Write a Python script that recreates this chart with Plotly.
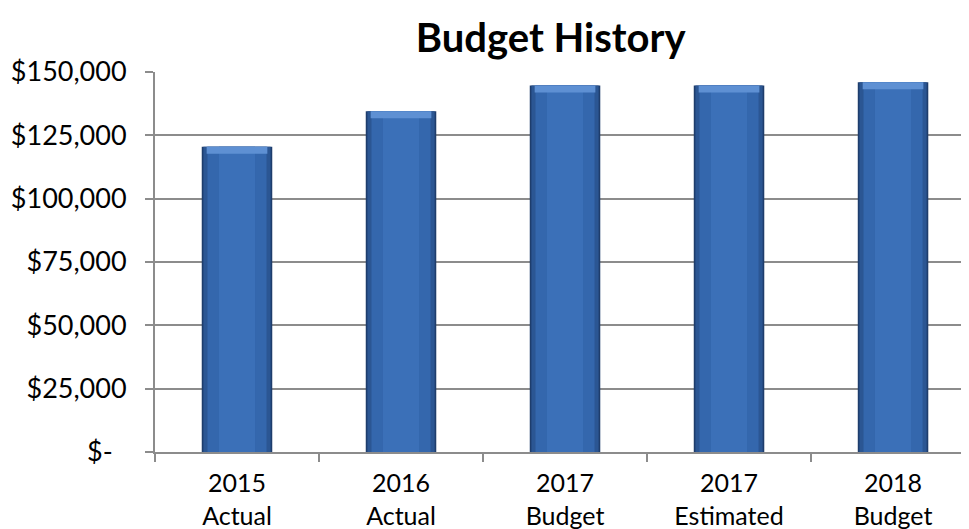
import plotly.graph_objects as go

categories = ["2015<br>Actual", "2016<br>Actual", "2017<br>Budget", "2017<br>Estimated", "2018<br>Budget"]
values = [120500, 134500, 144700, 144700, 146000]
tick_vals = [0, 25000, 50000, 75000, 100000, 125000, 150000]
tick_text = ["$-\u00a0\u00a0", "$25,000", "$50,000", "$75,000", "$100,000", "$125,000", "$150,000"]

FONT = "Lato"

fig = go.Figure()
# layered bars to imitate the shaded column look
layers = [
    (0.43, "#1E3D6C"),
    (0.41, "#2B5693"),
    (0.36, "#3467AD"),
    (0.22, "#3B70B8"),
]
for w, c in layers:
    fig.add_trace(go.Bar(x=categories, y=values, width=w, marker=dict(color=c, line=dict(width=0)),
                         hoverinfo="skip", showlegend=False))
# light bevel at top of each column
bevel = [2800] * len(values)
fig.add_trace(go.Bar(x=categories, y=bevel, base=[v - b for v, b in zip(values, bevel)], width=0.37,
                     marker=dict(color="#5E90D3", line=dict(width=0)), hoverinfo="skip", showlegend=False))

fig.update_layout(
    barmode="overlay",
    width=969, height=529,
    margin=dict(l=147, r=0, t=64, b=85),
    paper_bgcolor="white", plot_bgcolor="white",
    font=dict(family=FONT, size=27, color="black"),
    title=dict(text="<b>Budget History</b>", x=0.560, xanchor="center", y=1 - 30 / 529, yanchor="middle",
               font=dict(family=FONT, size=40, color="black")),
    showlegend=False,
)
fig.update_xaxes(
    range=[-0.5, 4.512], showgrid=False, showline=True, linecolor="#8C8C8C", linewidth=2,
    ticks="outside", tickson="boundaries", ticklen=8, tickcolor="#8C8C8C", tickwidth=1.5,
    ticklabelstandoff=8,
    tickfont=dict(family=FONT, size=25, color="black"),
)
fig.update_yaxes(
    range=[0, 150000], tickvals=tick_vals, ticktext=tick_text,
    showgrid=True, gridcolor="#8C8C8C", gridwidth=2,
    showline=True, linecolor="#8C8C8C", linewidth=2,
    ticks="outside", ticklen=8, tickcolor="#8C8C8C", tickwidth=2,
    ticklabelstandoff=13,
    tickfont=dict(family=FONT, size=27, color="black"),
    zeroline=False,
)
fig.write_html("out.html")
